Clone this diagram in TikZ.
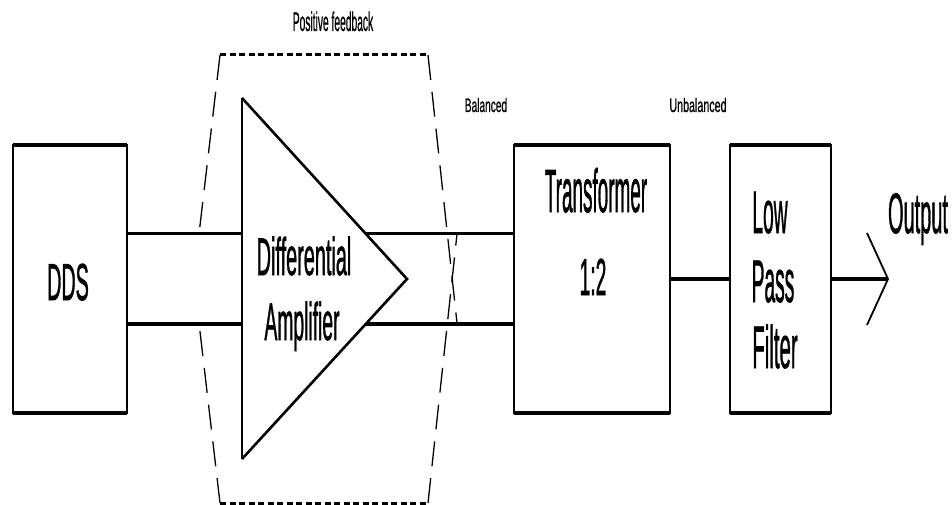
\documentclass[tikz,border=0pt]{standalone}
\usepackage{fontspec}
\setmainfont{Liberation Sans}
\newfontfamily\heavyfont{Liberation Sans}[FakeBold=1.5]
\newfontfamily\medfont{Liberation Sans}[FakeBold=1]
\usetikzlibrary{calc}
\newcommand\mylbl[3]{\scalebox{#1}[1]{\heavyfont\fontsize{#2}{#2}\selectfont #3}}
\newcommand\mysmall[3]{\scalebox{#1}[1]{\medfont\fontsize{#2}{#2}\selectfont #3}}
\begin{document}
\begin{tikzpicture}[x=1pt,y=-1pt,
  box/.style={draw, line width=1.3pt, inner sep=0pt, outer sep=0pt},
  edge/.style={line width=3.2pt},
  lbl/.style={anchor=base, inner sep=0pt},
  fbtop/.style={line width=3pt, dash pattern=on 6pt off 3.5pt},
  fbside/.style={line width=1.3pt, dash pattern=on 25pt off 12pt}]
\useasboundingbox (0,0) rectangle (952,505);
% boxes
\node[box, minimum width=114pt, minimum height=268pt] (dds) at (70,279) {};
\node[box, minimum width=156pt, minimum height=268pt] (tr) at (592,279) {};
\node[box, minimum width=101pt, minimum height=268pt] (lpf) at (780.5,279) {};
\foreach \b in {dds,tr,lpf}{
  \draw[edge] (\b.north west) -- (\b.north east);
  \draw[edge] (\b.south west) -- (\b.south east);
}
% triangle
\coordinate (ta) at (242,98);
\coordinate (tb) at (242,459);
\coordinate (tc) at (407,279);
\draw[line width=1.3pt] (ta) -- (tb);
\draw[line width=2.6pt, line join=miter] (ta) -- (tc) -- (tb);
\coordinate (ua) at ($(ta)!0.75!(tc)$);
\coordinate (la) at ($(tb)!0.75!(tc)$);
% connectors
\draw[edge] (dds.east |- ua) -- (ta |- ua);
\draw[edge] (dds.east |- la) -- (ta |- la);
\draw[edge] (ua) -- (tr.west |- ua);
\draw[edge] (la) -- (tr.west |- la);
\draw[edge] (tr.east) -- (lpf.west);
\coordinate (tip) at (888,279);
\coordinate (v1) at (867,233);
\coordinate (v2) at (867,325);
\draw[edge] (lpf.east) -- (tip);
\draw[line width=1.8pt, line join=miter] (v1) -- (tip) -- (v2);
% feedback outline
\coordinate (f1) at (220,55);
\coordinate (f2) at (428,55);
\coordinate (f3) at (220,503);
\coordinate (f4) at (428,503);
\draw[fbtop] (f1) -- (f2);
\draw[fbtop] (f3) -- (f4);
\draw[fbside] (f1) -- (199,234);
\draw[fbside] (f3) -- (199,323);
\draw[fbside] (f2) -- (457,323);
\draw[fbside] (f4) -- (457,234);
% labels
\node[lbl] (tdds) at (68,300) {\mylbl{0.38}{52}{DDS}};
\node[lbl] (tdiff) at (304,275) {\mylbl{0.375}{53}{Differential}};
\node[lbl] (tamp) at (302,340) {\mylbl{0.364}{53}{Amplifier}};
\node[lbl] (ttr) at (596,212) {\mylbl{0.31}{61}{Transformer}};
\node[lbl] (tratio) at (593,295) {\mylbl{0.37}{52}{1:2}};
\node[lbl] (tlow) at (770,233) {\mylbl{0.32}{60}{Low}};
\node[lbl] (tpass) at (773,302) {\mylbl{0.32}{60}{Pass}};
\node[lbl] (tfil) at (775,368) {\mylbl{0.34}{60}{Filter}};
\node[lbl] (tout) at (918,233) {\mylbl{0.35}{57}{Output}};
\node[lbl] (tpf) at (333,31) {\mysmall{0.38}{27}{Positive feedback}};
\node[lbl] (tbal) at (486,112) {\mysmall{0.52}{19.5}{Balanced}};
\node[lbl] (tunb) at (698,112) {\mysmall{0.55}{19.5}{Unbalanced}};
\end{tikzpicture}
\end{document}
